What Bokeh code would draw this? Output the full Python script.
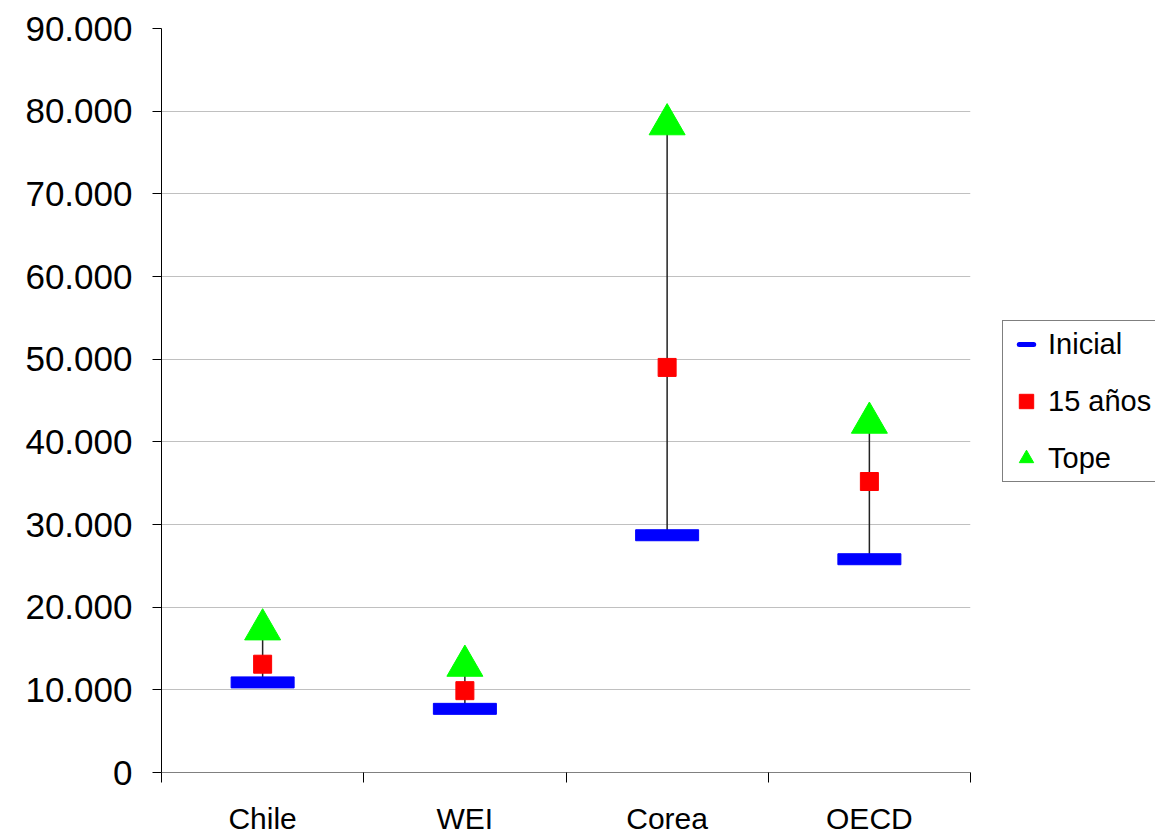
import math
from bokeh.plotting import figure
from bokeh.layouts import row
from bokeh.models import (ColumnDataSource, Range1d, FixedTicker, Legend, LegendItem)
from bokeh.embed import file_html
from bokeh.resources import INLINE

categories = ["Chile", "WEI", "Corea", "OECD"]
inicial = [10900, 7700, 28700, 25800]
quince = [13100, 9900, 49000, 35200]
tope = [17300, 12900, 78400, 42300]
y_ticks = [0, 10000, 20000, 30000, 40000, 50000, 60000, 70000, 80000, 90000]
y_tick_labels = ["0", "10.000", "20.000", "30.000", "40.000", "50.000",
                 "60.000", "70.000", "80.000", "90.000"]
series_names = ["Inicial", "15 años", "Tope"]

FONT = "Liberation Sans"
BLUE, RED, GREEN = "#0000ff", "#ff0000", "#00ff00"

xpos = [i + 0.5 for i in range(len(categories))]
src = ColumnDataSource(dict(x=xpos, cat=categories, ini=inicial, q=quince, top=tope))

p = figure(width=1000, height=837, output_backend="svg", toolbar_location=None,
           x_range=Range1d(0, len(categories)), y_range=Range1d(y_ticks[0], y_ticks[-1]),
           min_border_left=161, min_border_top=28, min_border_bottom=63,
           min_border_right=30)
p.outline_line_color = None
p.background_fill_color = "white"
p.border_fill_color = "white"

# y axis
ya = p.yaxis[0]
ya.ticker = FixedTicker(ticks=y_ticks)
ya.major_label_overrides = {t: l for t, l in zip(y_ticks, y_tick_labels)}
ya.axis_line_color = "black"
ya.major_tick_line_color = "black"
ya.major_tick_in = 0
ya.major_tick_out = 9
ya.minor_tick_line_color = None
ya.major_label_standoff = 20
ya.major_label_text_font = FONT
ya.major_label_text_font_size = "35px"
ya.major_label_text_color = "black"

# x axis
xa = p.xaxis[0]
xa.ticker = FixedTicker(ticks=xpos, minor_ticks=list(range(len(categories) + 1)))
xa.major_label_overrides = {x: c for x, c in zip(xpos, categories)}
xa.axis_line_color = "#808080"
xa.major_tick_line_color = None
xa.major_tick_in = 0
xa.major_tick_out = 0
xa.minor_tick_line_color = "black"
xa.minor_tick_in = 0
xa.minor_tick_out = 10
xa.major_label_standoff = 19
xa.major_label_text_font = FONT
xa.major_label_text_font_size = "30px"
xa.major_label_text_color = "black"

# grid
p.xgrid.grid_line_color = None
p.ygrid.ticker = FixedTicker(ticks=y_ticks[1:-1])
p.ygrid.grid_line_color = "#c0c0c0"
p.ygrid.grid_line_width = 1

# high-low lines
p.segment(x0="x", y0="ini", x1="x", y1="top", source=src, line_color="#222222", line_width=1.5)

p.rect(x="x", y="ini", width=63, height=11, width_units="screen", height_units="screen",
       source=src, fill_color=BLUE, line_color=BLUE)
p.scatter(x="x", y="q", source=src, marker="square", size=18, fill_color=RED, line_color=RED)
p.scatter(x="x", y="top", source=src, marker="triangle", size=36, fill_color=GREEN, line_color=GREEN)

# legend panel (separate small figure, so the legend sits outside the plot area)
lg = figure(width=155, height=837, output_backend="svg", toolbar_location=None,
            x_range=Range1d(0, 1), y_range=Range1d(0, 1),
            x_axis_location=None, y_axis_location=None,
            min_border_left=0, min_border_right=0, min_border_top=0, min_border_bottom=0)
lg.outline_line_color = None
lg.xgrid.grid_line_color = None
lg.ygrid.grid_line_color = None
lg.background_fill_color = "white"
lg.border_fill_color = "white"

nan = [math.nan]
leg_ini = lg.scatter(x=nan, y=nan, marker="dash", line_color=BLUE, line_width=5, line_cap="round")
leg_q = lg.scatter(x=nan, y=nan, marker="square", fill_color=RED, line_color=RED)
leg_t = lg.scatter(x=nan, y=nan, marker="triangle", fill_color=GREEN, line_color=GREEN)

legend = Legend(items=[LegendItem(label=series_names[0], renderers=[leg_ini]),
                       LegendItem(label=series_names[1], renderers=[leg_q]),
                       LegendItem(label=series_names[2], renderers=[leg_t])],
                location=(2, 290))
legend.label_text_font = FONT
legend.label_text_font_size = "29px"
legend.label_text_color = "black"
legend.glyph_width = 36
legend.glyph_height = 36
legend.label_standoff = 4
legend.padding = 5
legend.spacing = 21
legend.border_line_color = "black"
legend.border_line_width = 1
legend.background_fill_color = "white"
legend.background_fill_alpha = 1
legend.margin = 0
lg.add_layout(legend, "center")

layout = row(p, lg, spacing=0)
open("out.html", "w").write(file_html(layout, INLINE))
